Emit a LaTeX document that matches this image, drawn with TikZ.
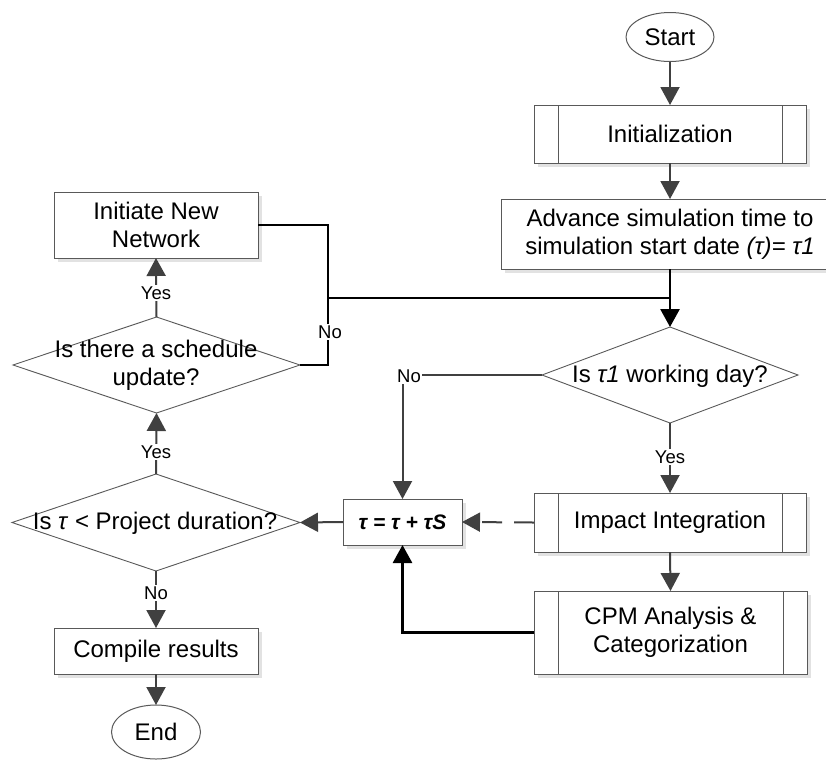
\documentclass[tikz,border=0pt]{standalone}
\usepackage{fontspec}
\setmainfont{Liberation Sans}
\usetikzlibrary{shapes.geometric,arrows.meta,shadows}

\definecolor{edgegray}{HTML}{595959}
\definecolor{arrowgray}{HTML}{404040}
\definecolor{shadowgray}{HTML}{E2E2E2}

\begin{document}
\begin{tikzpicture}[x=1pt,y=-1pt,
  every node/.style={inner sep=0pt, outer sep=0pt},
  txt/.style={font=\fontsize{24}{28}\selectfont, align=center},
  box/.style={txt, rectangle, draw=edgegray, line width=1pt, fill=white,
    drop shadow={shadow xshift=4pt, shadow yshift=-4pt, fill=shadowgray, opacity=1}},
  terminal/.style={txt, ellipse, draw=edgegray, line width=1pt, fill=white},
  decision/.style={diamond, draw=edgegray, line width=0.9pt, fill=white},
  inner/.style={draw=edgegray, line width=1pt},
  flow/.style={draw=arrowgray, line width=2pt, -{Triangle[length=18pt,width=19pt]}},
  link/.style={draw=black, line width=2.8pt},
  linkarrow/.style={link, -{Triangle[length=18pt,width=19pt]}},
  lbl/.style={font=\fontsize{18.5}{21}\selectfont, fill=white, inner sep=1.5pt}
]
\useasboundingbox (0,0) rectangle (826,761);

% right column
\node[terminal, minimum width=88pt, minimum height=49pt] (start) at (670,37) {Start};
\node[box, minimum width=272pt, minimum height=58pt] (init) at (670,134) {Initialization};
\node[box, minimum width=338pt, minimum height=70pt] (adv) at (670,234)
  {Advance simulation time to\\simulation start date \textit{(τ)= τ1}};
\node[decision, minimum width=256pt, minimum height=96pt] (work) at (670,375) {};
\node[txt] (worktxt) at (670,376) {Is \textit{τ1} working day?};
\node[box, minimum width=272pt, minimum height=59pt] (impact) at (670,522.5) {Impact Integration};
\node[box, minimum width=273pt, minimum height=83pt] (cpm) at (670.5,632.5)
  {CPM Analysis \&\\Categorization};

% middle
\node[box, font=\fontsize{21}{24}\selectfont\bfseries\itshape,
  minimum width=119pt, minimum height=46pt] (tau) at (402.5,522) {τ = τ + τS};

% left column
\node[box, minimum width=204pt, minimum height=66pt] (newnet) at (156,225) {Initiate New\\Network};
\node[decision, minimum width=287pt, minimum height=96pt] (sched) at (156.5,365) {};
\node[txt] (schedtxt) at (156,365) {Is there a schedule\\update?};
\node[decision, minimum width=288pt, minimum height=97pt] (proj) at (156,522.5) {};
\node[txt] (projtxt) at (155,523) {Is \textit{τ} < Project duration?};
\node[box, minimum width=204pt, minimum height=46pt] (compile) at (156,651) {Compile results};
\node[terminal, minimum width=89pt, minimum height=54pt] (end) at (156,732) {End};

% predefined-process side bars
\foreach \n in {init,impact,cpm}{
  \draw[inner] ([xshift=24pt]\n.north west) -- ([xshift=24pt]\n.south west);
  \draw[inner] ([xshift=-24pt]\n.north east) -- ([xshift=-24pt]\n.south east);
}

% junction points of the loop back
\coordinate (jx) at (328,298);
\coordinate (jm) at (work.north |- jx);

% connectors
\draw[flow] (start) -- (init);
\draw[flow] (init) -- (adv);
\draw[linkarrow] (adv.south) -- (work.north);
\draw[link] (newnet.east) -| (jx) -- (jm);
\draw[link] (sched.east) -| (jx);
\draw[flow] (work.west) -| (tau.north);
\draw[flow] (work.south) -- (impact.north);
\draw[flow] (impact.south) -- (cpm.north);
\draw[flow, dash pattern=on 20pt off 12pt] (impact.west) -- (tau.east);
\draw[linkarrow] (cpm.west) -| (tau.south);
\draw[flow] (tau.west) -- (proj.east);
\draw[flow] (proj.north) -- (sched.south);
\draw[flow] (sched.north) -- (newnet.south);
\draw[flow] (proj.south) -- (compile.north);
\draw[flow] (compile.south) -- (end.north);

% branch labels
\node[lbl] (noA) at (330,332) {No};
\node[lbl] (noB) at (409,376) {No};
\node[lbl] (yesA) at (670,457) {Yes};
\node[lbl] (yesB) at (156,452) {Yes};
\node[lbl] (yesC) at (156,293) {Yes};
\node[lbl] (noC) at (156,593) {No};
\end{tikzpicture}
\end{document}
